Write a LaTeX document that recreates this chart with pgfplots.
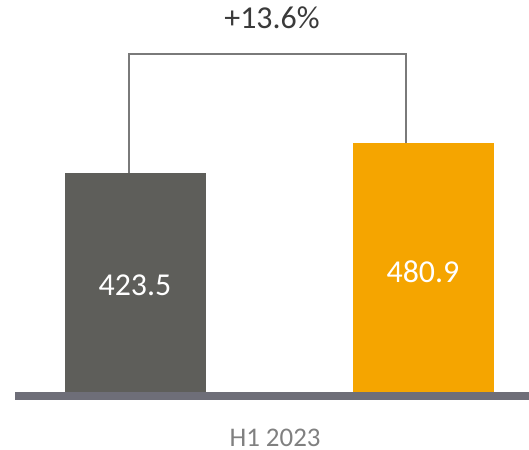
\documentclass[border=0pt]{standalone}
\usepackage{fontspec}
\setmainfont{Carlito}
\usepackage{pgfplots}
\pgfplotsset{compat=1.18}

\definecolor{bargray}{HTML}{5E5E5A}
\definecolor{barorange}{HTML}{F5A500}
\definecolor{baseclr}{HTML}{6E6E78}
\definecolor{bracket}{HTML}{7A7A7A}
\definecolor{toptext}{HTML}{3A3A3A}
\definecolor{cattext}{HTML}{808080}

\begin{document}
\begin{tikzpicture}
\useasboundingbox (0,0) rectangle (529bp,450bp);
\begin{axis}[
    at={(0,0)}, anchor=south west,
    scale only axis,
    width=529bp,
    height=450bp,
    hide axis,
    clip=false,
    xmin=-0.4705, xmax=1.3663,
    ymin=-112.2, ymax=758.1,
    bar width=0.49,
    ]
% bars
\addplot[ybar, bar shift=0pt, fill=bargray, draw=none] coordinates {(0,423.5)};
\addplot[ybar, bar shift=0pt, fill=barorange, draw=none] coordinates {(1,480.9)};
% growth bracket
\addplot[sharp plot, no marks, draw=bracket, line width=1.3bp] coordinates {
    (-0.0226,423.5) (-0.0226,653.7) (0.939,653.7) (0.939,480.9)
};
% baseline
\draw[draw=baseclr, line width=8.5bp]
    (axis cs:-0.418,-8) -- (axis cs:1.3663,-8);
% value labels
\node[white, font=\fontsize{32}{38}\selectfont] at (axis cs:-0.002,206) {423.5};
\node[white, font=\fontsize{32}{38}\selectfont] at (axis cs:0.998,233) {480.9};
\node[toptext, font=\fontsize{32}{38}\selectfont] at (axis cs:0.474,724) {+13.6\%};
\node[cattext, inner sep=0pt, font=\fontsize{27}{32}\selectfont] at (axis cs:0.4844,-89) {H1 2023};
\end{axis}
\end{tikzpicture}
\end{document}
